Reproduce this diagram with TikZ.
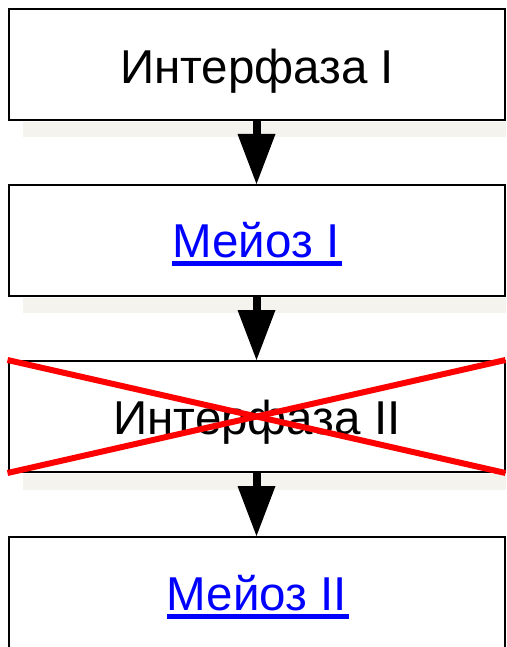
\documentclass[tikz,border=0pt]{standalone}
\usepackage{fontspec}
\setmainfont{Liberation Sans}
\usetikzlibrary{arrows.meta}
\definecolor{linkblue}{RGB}{0,0,255}
\definecolor{crossred}{RGB}{255,0,0}
\definecolor{shelfc}{RGB}{244,243,238}
\begin{document}
\begin{tikzpicture}[x=1pt,y=-1pt,
  stage/.style={draw=black, line width=2pt, fill=white,
    minimum width=496pt, minimum height=111pt, inner sep=0pt},
  stagetext/.style={anchor=base, inner sep=0pt,
    font=\fontsize{47.5}{54}\selectfont},
  linktext/.style={stagetext, text=linkblue},
  flow/.style={line width=8pt,
    -{Triangle[length=50pt,width=38pt,line width=0pt]}},
  shelfstrip/.style={fill=shelfc},
  strike/.style={draw=crossred, line width=6pt}]
\useasboundingbox (0,0) rectangle (506,647);
\clip (0,0) rectangle (506,647);

% pale strips under the first three stages
\fill[shelfstrip] (23,122) rectangle (506,137);
\fill[shelfstrip] (23,298) rectangle (506,313);
\fill[shelfstrip] (23,474) rectangle (506,490);

% stages
\node[stage] (s1) at (256.5,64.5) {};
\node[stage] (s2) at (256.5,240.5) {};
\node[stage] (s3) at (256.5,416.5) {};
\node[stage] (s4) at (256.5,592.5) {};

% texts
\node[stagetext] (t1) at (257,84) {Интерфаза I};
\node[linktext] (t2) at (256,257) {Мейоз I};
\node[stagetext] (t3) at (257,434) {Интерфаза II};
\node[linktext] (t4) at (257,610) {Мейоз II};

% link underlines
\fill[linkblue] ([yshift=-4pt]t2.base west) rectangle ([xshift=2pt,yshift=-9pt]t2.base east);
\fill[linkblue] ([yshift=-4pt]t4.base west) rectangle ([xshift=2pt,yshift=-9pt]t4.base east);

% flow arrows
\draw[flow] (s1.south) -- (s2.north);
\draw[flow] (s2.south) -- (s3.north);
\draw[flow] (s3.south) -- (s4.north);

% crossed-out stage
\draw[strike] (s3.north west) -- (s3.south east);
\draw[strike] (s3.south west) -- (s3.north east);
\end{tikzpicture}
\end{document}
